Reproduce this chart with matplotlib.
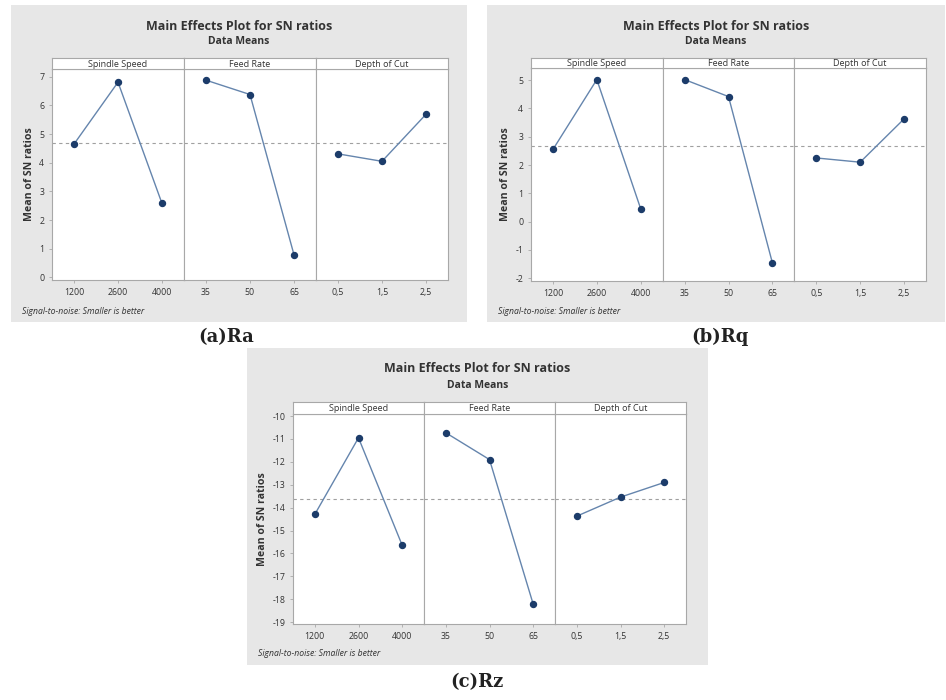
import numpy as np
import matplotlib
matplotlib.use("Agg")
import matplotlib.pyplot as plt
from matplotlib.patches import Rectangle

# Main effects plots (Minitab style) for SN ratios of Ra, Rq, Rz

W, H = 946, 700

factors = ['Spindle Speed', 'Feed Rate', 'Depth of Cut']
spindle_levels = ['1200', '2600', '4000']
feed_levels = ['35', '50', '65']
depth_levels = ['0,5', '1,5', '2,5']

ra_spindle = [4.65, 6.81, 2.58]
ra_feed = [6.88, 6.38, 0.79]
ra_depth = [4.31, 4.05, 5.69]

rq_spindle = [2.55, 5.02, 0.45]
rq_feed = [5.02, 4.42, -1.46]
rq_depth = [2.25, 2.10, 3.63]

rz_spindle = [-14.29, -10.95, -15.64]
rz_feed = [-10.73, -11.90, -18.21]
rz_depth = [-14.37, -13.54, -12.90]

plt.rcParams['font.family'] = ['Open Sans', 'DejaVu Sans']
plt.rcParams['axes.unicode_minus'] = False

BG = '#e7e7e7'
EDGE = '#a8a8a8'
LINE = '#6585ad'
MARK = '#1c3c6a'


def fx(px):
    return px / W


def fy(py):
    return 1 - py / H


def draw_panel(fig, box, plot, series, ylim, yticks, caption, cap_xy):
    # box: gray panel (x0, y0, x1, y1) in pixels
    # plot: (left, right, strip_top, strip_bottom, bottom) in pixels
    x0, y0, x1, y1 = box
    fig.patches.append(Rectangle((fx(x0), fy(y1)), fx(x1 - x0), (y1 - y0) / H,
                                 transform=fig.transFigure, facecolor=BG,
                                 edgecolor='none', zorder=-10))
    cx = (x0 + x1) / 2
    fig.text(fx(cx), fy(y0 + 21), 'Main Effects Plot for SN ratios',
             ha='center', va='center', fontsize=9, fontweight='bold', color='#333333')
    fig.text(fx(cx), fy(y0 + 37), 'Data Means', ha='center', va='center',
             fontsize=7.5, fontweight='bold', color='#333333')
    fig.text(fx(x0 + 11), fy(y1 - 11), 'Signal-to-noise: Smaller is better',
             ha='left', va='center', fontsize=6.2, style='italic', color='#333333')

    left, right, stop, sbot, bottom = plot
    pw = (right - left) / 3
    levels = [spindle_levels, feed_levels, depth_levels]
    grand = np.mean(series[0])
    for i in range(3):
        l = left + i * pw
        ax = fig.add_axes([fx(l), fy(bottom), pw / W, (bottom - sbot) / H])
        ax.set_facecolor('white')
        vals = series[i]
        ax.axhline(grand, color='#a0a0a0', linestyle=(0, (3, 3)), linewidth=0.8, zorder=1)
        ax.plot(range(3), vals, color=LINE, linewidth=1.0, zorder=2)
        ax.plot(range(3), vals, 'o', color=MARK, markersize=4.3, zorder=3)
        ax.set_xlim(-0.5, 2.5)
        ax.set_ylim(*ylim)
        ax.set_xticks(range(3))
        ax.set_xticklabels(levels[i], fontsize=6.3, color='#333333')
        if i == 0:
            ax.set_yticks(yticks)
            ax.set_yticklabels([str(t) for t in yticks], fontsize=6.3, color='#333333')
            ax.set_ylabel('Mean of SN ratios', fontsize=7.6, fontweight='bold',
                          color='#333333', labelpad=3)
        else:
            ax.set_yticks([])
        ax.tick_params(length=2.5, width=0.6, color=EDGE, pad=3)
        for s in ax.spines.values():
            s.set_color(EDGE)
            s.set_linewidth(0.8)

        sax = fig.add_axes([fx(l), fy(sbot), pw / W, (sbot - stop) / H])
        sax.set_facecolor('white')
        sax.set_xticks([])
        sax.set_yticks([])
        for s in sax.spines.values():
            s.set_color(EDGE)
            s.set_linewidth(0.8)
        sax.text(0.5, 0.45, factors[i], ha='center', va='center', fontsize=6.5,
                 color='#333333', transform=sax.transAxes)

    fig.text(fx(cap_xy[0]), fy(cap_xy[1]), caption, ha='center', va='center',
             fontsize=13, fontweight='bold', family='DejaVu Serif', color='#222222')


fig = plt.figure(figsize=(W / 100, H / 100), dpi=100)
fig.patch.set_facecolor('white')

draw_panel(fig, (11, 5, 467, 322), (52, 448, 58, 69, 280),
           [ra_spindle, ra_feed, ra_depth], (-0.09, 7.27), list(range(0, 8)),
           '(a)Ra', (226, 337))
draw_panel(fig, (487, 5, 945, 322), (531, 926, 58, 68, 281),
           [rq_spindle, rq_feed, rq_depth], (-2.1, 5.43), list(range(-2, 6)),
           '(b)Rq', (720, 337))
draw_panel(fig, (247, 348, 708, 665), (293, 686, 402, 414, 624),
           [rz_spindle, rz_feed, rz_depth], (-19.08, -9.91), list(range(-19, -9)),
           '(c)Rz', (477, 682))

fig.savefig('out.png', dpi=100)
